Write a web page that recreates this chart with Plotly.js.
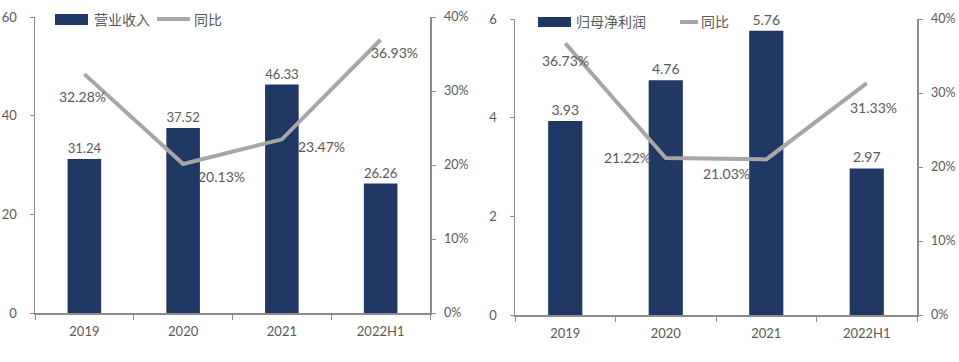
<!DOCTYPE html>
<html>
<head>
<meta charset="utf-8">
<script src="https://cdn.plot.ly/plotly-3.0.1.min.js"></script>
<style>html,body{margin:0;padding:0;background:#fff;}#chart{width:959px;height:362px;}</style>
</head>
<body>
<div id="chart"></div>
<script>
// ---- data ----
const categories = ['2019', '2020', '2021', '2022H1'];
const revenueName = '营业收入';
const revenue = [31.24, 37.52, 46.33, 26.26];
const revenueYoY = [0.3228, 0.2013, 0.2347, 0.3693];
const profitName = '归母净利润';
const profit = [3.93, 4.76, 5.76, 2.97];
const profitYoY = [0.3673, 0.2122, 0.2103, 0.3133];
const yoyName = '同比';

// ---- styles / positions ----
const W = 959, H = 362;
const BAR = '#1f3864', LINE = '#a6a6a6', AX = '#8c8c8c', TXT = '#595959';
const FONT = 'Lato, "Noto Sans CJK SC", sans-serif';
const leftYoYShift = [[-2,-22],[38,-12],[40,-7],[14,-13]];
const rightYoYShift = [[0,-17],[-38,0],[-40,-14],[7,-24]];
const px = x => x / W, py = y => 1 - y / H;

const barText = v => v.toFixed(2);
const pctText = v => (v * 100).toFixed(2) + '%';

const traces = [
  {type:'bar', x:categories, y:revenue, xaxis:'x', yaxis:'y', marker:{color:BAR},
   text:revenue.map(barText), textposition:'outside', cliponaxis:false,
   textfont:{color:TXT, size:14, family:FONT}, name:revenueName, showlegend:false, hoverinfo:'skip'},
  {type:'scatter', mode:'lines', x:categories, y:revenueYoY, xaxis:'x', yaxis:'y2',
   line:{color:LINE, width:4}, name:yoyName, showlegend:false, hoverinfo:'skip'},
  {type:'bar', x:categories, y:profit, xaxis:'x2', yaxis:'y3', marker:{color:BAR},
   text:profit.map(barText), textposition:'outside', cliponaxis:false,
   textfont:{color:TXT, size:14, family:FONT}, name:profitName, showlegend:false, hoverinfo:'skip'},
  {type:'scatter', mode:'lines', x:categories, y:profitYoY, xaxis:'x2', yaxis:'y4',
   line:{color:LINE, width:4}, name:yoyName, showlegend:false, hoverinfo:'skip'}
];

const annotations = [];
categories.forEach((c, i) => {
  // x given as category index (numeric-looking category names would be read as indices)
  annotations.push({x:i, y:revenueYoY[i], xref:'x', yref:'y2', text:pctText(revenueYoY[i]),
    showarrow:false, xshift:leftYoYShift[i][0], yshift:leftYoYShift[i][1],
    font:{color:TXT, size:14, family:FONT}});
  annotations.push({x:i, y:profitYoY[i], xref:'x2', yref:'y4', text:pctText(profitYoY[i]),
    showarrow:false, xshift:rightYoYShift[i][0], yshift:rightYoYShift[i][1],
    font:{color:TXT, size:14, family:FONT}});
});
// manual legends
const legFont = {color:TXT, size:14, family:FONT};
annotations.push({xref:'paper', yref:'paper', x:px(92), y:py(19), xanchor:'left', yanchor:'middle', text:revenueName, showarrow:false, font:legFont});
annotations.push({xref:'paper', yref:'paper', x:px(192), y:py(19), xanchor:'left', yanchor:'middle', text:yoyName, showarrow:false, font:legFont});
annotations.push({xref:'paper', yref:'paper', x:px(574), y:py(22), xanchor:'left', yanchor:'middle', text:profitName, showarrow:false, font:legFont});
annotations.push({xref:'paper', yref:'paper', x:px(699), y:py(22), xanchor:'left', yanchor:'middle', text:yoyName, showarrow:false, font:legFont});

const shapes = [
  {type:'rect', xref:'paper', yref:'paper', x0:px(55), x1:px(88), y0:py(25), y1:py(14), fillcolor:BAR, line:{width:0}},
  {type:'line', xref:'paper', yref:'paper', x0:px(157), x1:px(190), y0:py(19), y1:py(19), line:{color:LINE, width:4}},
  {type:'rect', xref:'paper', yref:'paper', x0:px(538), x1:px(571), y0:py(27), y1:py(17), fillcolor:BAR, line:{width:0}},
  {type:'line', xref:'paper', yref:'paper', x0:px(680), x1:px(698), y0:py(22), y1:py(22), line:{color:LINE, width:4}}
];

const tickFont = {color:TXT, size:13, family:FONT};
const rTickFont = {color:TXT, size:12.5, family:FONT};
const xCommon = {type:'category', range:[-0.5, 3.5], tickson:'boundaries', ticks:'outside', ticklen:5,
  tickcolor:AX, showline:true, linecolor:AX, linewidth:1.5, showgrid:false, zeroline:false,
  tickfont:tickFont, fixedrange:true, ticklabelstandoff:6};
const yCommon = {ticks:'outside', ticklen:4, tickcolor:AX, showline:true, linecolor:AX, linewidth:1.5,
  showgrid:false, zeroline:false, tickfont:tickFont, fixedrange:true, ticklabelstandoff:10};
const yRight = {tickfont:rTickFont, ticklabelstandoff:6};

const layout = {
  width:W, height:H, margin:{l:0, r:0, t:0, b:0},
  paper_bgcolor:'#fff', plot_bgcolor:'#fff', bargap:0.66, showlegend:false,
  font:{family:FONT, color:TXT},
  xaxis:Object.assign({}, xCommon, {domain:[px(35), px(430)], anchor:'y'}),
  yaxis:Object.assign({}, yCommon, {domain:[py(313), py(17)], range:[0, 60], dtick:20, anchor:'x'}),
  yaxis2:Object.assign({}, yCommon, yRight, {overlaying:'y', side:'right', anchor:'x', range:[0, 0.4], dtick:0.1, tickformat:'.0%'}),
  xaxis2:Object.assign({}, xCommon, {domain:[px(515), px(917)], anchor:'y3'}),
  yaxis3:Object.assign({}, yCommon, {domain:[py(315), py(19)], range:[0, 6], dtick:2, anchor:'x2'}),
  yaxis4:Object.assign({}, yCommon, yRight, {overlaying:'y3', side:'right', anchor:'x2', range:[0, 0.4], dtick:0.1, tickformat:'.0%'}),
  annotations:annotations, shapes:shapes
};

Plotly.newPlot('chart', traces, layout, {staticPlot:true, displayModeBar:false});
</script>
</body>
</html>
